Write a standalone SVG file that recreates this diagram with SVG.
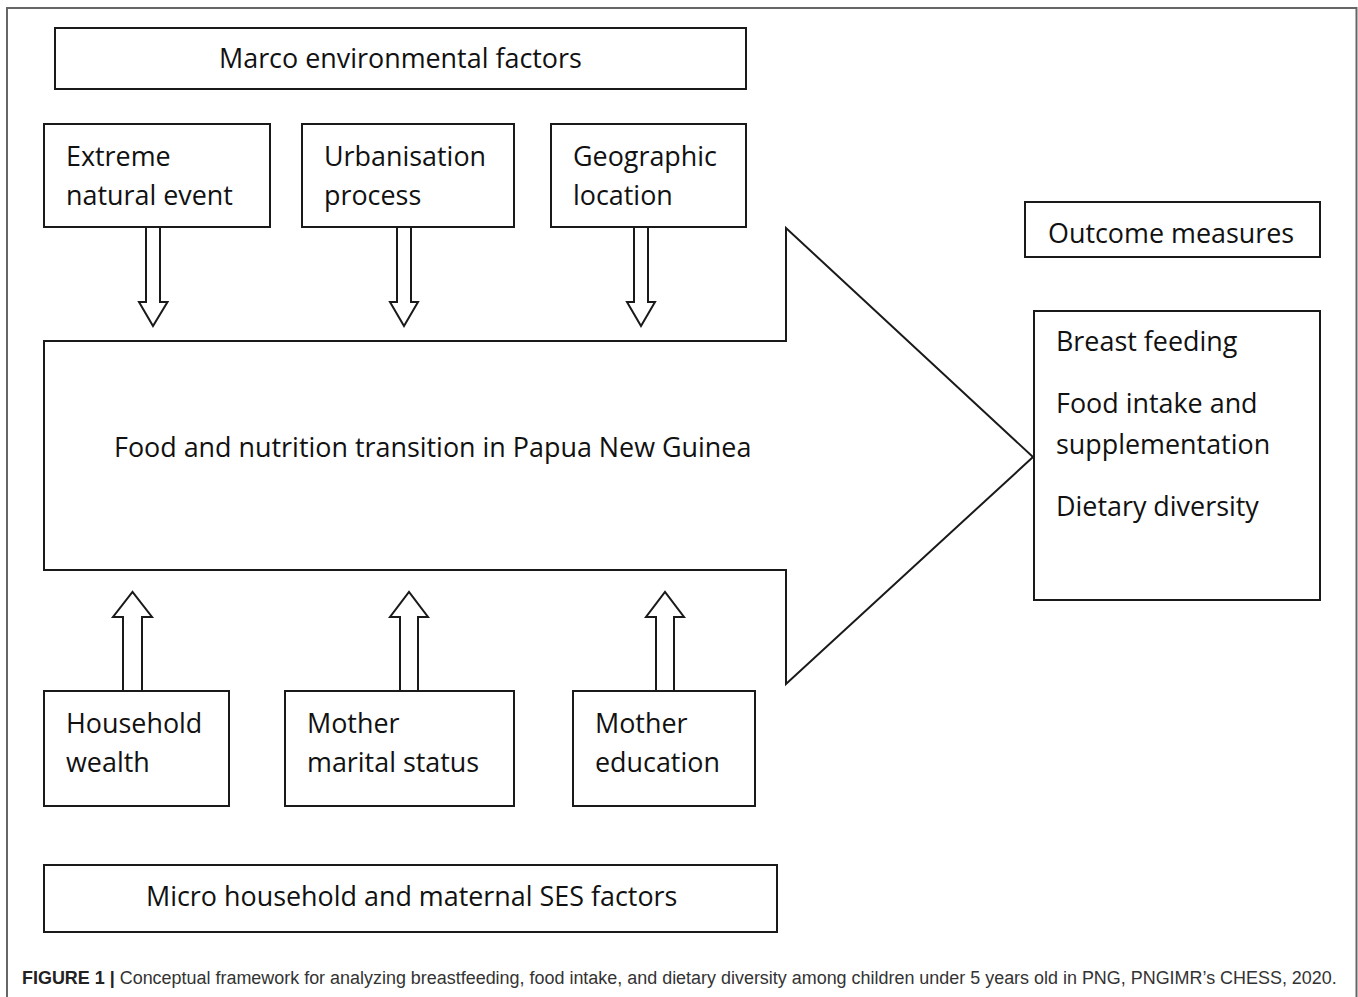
<svg xmlns="http://www.w3.org/2000/svg" width="1358" height="997" viewBox="0 0 1358 997">
<style>
.box{fill:#fff;stroke:#1a1a1a;stroke-width:2}
.arr{fill:#fff;stroke:#1a1a1a;stroke-width:2;stroke-linejoin:miter}
.t{font-family:"Open Sans",Lato,sans-serif;font-size:26.9px;fill:#111}
.cap{font-family:"Liberation Sans",Arial,sans-serif;font-size:17.95px;fill:#333}
</style>
<rect width="1358" height="997" fill="#fff"/>
<path d="M7,997 V8 H1356.5 V997" fill="none" stroke="#666" stroke-width="2"/>
<g id="connectors">
<polygon class="arr" points="44,341 786,341 786,228 1033,457 786,684 786,570 44,570"/>
<polygon class="arr" points="146,227 160,227 160,302 167.5,302 153,326 139,302 146,302"/>
<polygon class="arr" points="397,227 411,227 411,302 418,302 404,326 390,302 397,302"/>
<polygon class="arr" points="634,227 648,227 648,302 655,302 641,326 627,302 634,302"/>
<polygon class="arr" points="123,691 142,691 142,617 152,617 132.5,592 113,617 123,617"/>
<polygon class="arr" points="400,691 418,691 418,617 428,617 409,592 390,617 400,617"/>
<polygon class="arr" points="656,691 674,691 674,617 684,617 665,592 646,617 656,617"/>
</g>
<g id="node-transition">
<text class="t" x="114" y="457">Food and nutrition transition in Papua New Guinea</text>
</g>
<g id="node-macro">
<rect class="box" x="55" y="28" width="691" height="61"/>
<text class="t" x="219" y="68">Marco environmental factors</text>
</g>
<g id="node-extreme">
<rect class="box" x="44" y="124" width="226" height="103"/>
<text class="t" x="66" y="166">Extreme</text>
<text class="t" x="66" y="205">natural event</text>
</g>
<g id="node-urban">
<rect class="box" x="302" y="124" width="212" height="103"/>
<text class="t" x="324" y="166">Urbanisation</text>
<text class="t" x="324" y="205">process</text>
</g>
<g id="node-geo">
<rect class="box" x="551" y="124" width="195" height="103"/>
<text class="t" x="573" y="166">Geographic</text>
<text class="t" x="573" y="205">location</text>
</g>
<g id="node-outcome-title">
<rect class="box" x="1025" y="202" width="295" height="55"/>
<text class="t" x="1048" y="243">Outcome measures</text>
</g>
<g id="node-outcomes">
<rect class="box" x="1034" y="311" width="286" height="289"/>
<text class="t" x="1056" y="351">Breast feeding</text>
<text class="t" x="1056" y="413">Food intake and</text>
<text class="t" x="1056" y="454">supplementation</text>
<text class="t" x="1056" y="516">Dietary diversity</text>
</g>
<g id="node-wealth">
<rect class="box" x="44" y="691" width="185" height="115"/>
<text class="t" x="66" y="733">Household</text>
<text class="t" x="66" y="772">wealth</text>
</g>
<g id="node-marital">
<rect class="box" x="285" y="691" width="229" height="115"/>
<text class="t" x="307" y="733">Mother</text>
<text class="t" x="307" y="772">marital status</text>
</g>
<g id="node-education">
<rect class="box" x="573" y="691" width="182" height="115"/>
<text class="t" x="595" y="733">Mother</text>
<text class="t" x="595" y="772">education</text>
</g>
<g id="node-micro">
<rect class="box" x="44" y="865" width="733" height="67"/>
<text class="t" x="146" y="906">Micro household and maternal SES factors</text>
</g>
<g id="caption">
<text class="cap" x="22" y="984"><tspan font-weight="bold" fill="#222">FIGURE 1 |</tspan> Conceptual framework for analyzing breastfeeding, food intake, and dietary diversity among children under 5 years old in PNG, PNGIMR’s CHESS, 2020.</text>
</g>
</svg>
